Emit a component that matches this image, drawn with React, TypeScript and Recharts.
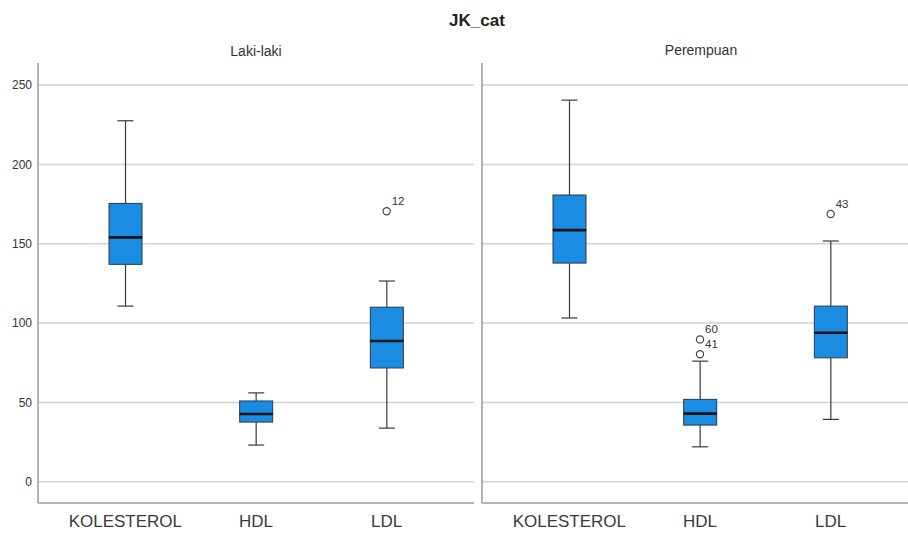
import React from "react";
import {
  ComposedChart, Bar, Scatter, XAxis, YAxis, ReferenceLine,
} from "recharts";

const categories = ["KOLESTEROL", "HDL", "LDL"];
const yTicks = [0, 50, 100, 150, 200, 250];

// Laki-laki
const lakiMin = [110.7, 23.1, 33.8];
const lakiQ1 = [137, 37.6, 71.7];
const lakiMedian = [154, 42.7, 88.7];
const lakiQ3 = [175.4, 50.9, 110];
const lakiMax = [227.5, 56, 126.5];
const lakiOutlier1 = [null, null, 170.5];
const lakiOutlierId1 = ["", "", "12"];
const lakiOutlier2 = [null, null, null];
const lakiOutlierId2 = ["", "", ""];

// Perempuan
const prMin = [103.2, 22, 39.3];
const prQ1 = [137.8, 35.7, 78.1];
const prMedian = [158.6, 42.9, 93.9];
const prQ3 = [180.7, 51.9, 110.7];
const prMax = [240.5, 76, 151.7];
const prOutlier1 = [null, 89.7, 168.7];
const prOutlierId1 = ["", "60", "43"];
const prOutlier2 = [null, 80.3, null];
const prOutlierId2 = ["", "41", ""];

const FONT = '"Liberation Sans", Arial, sans-serif';
const BOX_FILL = "#1a8de2";
const LINE = "#3a3a3a";

function buildRows(min, q1, med, q3, max, o1, id1, o2, id2) {
  return categories.map((name, i) => ({
    name,
    base: min[i],
    lowWhisker: q1[i] - min[i],
    lowBox: med[i] - q1[i],
    highBox: q3[i] - med[i],
    highWhisker: max[i] - q3[i],
    out1: o1[i],
    id1: id1[i],
    out2: o2[i],
    id2: id2[i],
  }));
}

const lakiRows = buildRows(lakiMin, lakiQ1, lakiMedian, lakiQ3, lakiMax,
  lakiOutlier1, lakiOutlierId1, lakiOutlier2, lakiOutlierId2);
const prRows = buildRows(prMin, prQ1, prMedian, prQ3, prMax,
  prOutlier1, prOutlierId1, prOutlier2, prOutlierId2);

const Empty = () => <g />;

const LowWhisker = (p: any) => {
  const cx = p.x + p.width / 2;
  const yb = p.y + p.height;
  return (
    <g>
      <line x1={cx} x2={cx} y1={p.y} y2={yb} stroke={LINE} strokeWidth={1.2} />
      <line x1={cx - 8} x2={cx + 8} y1={yb} y2={yb} stroke={LINE} strokeWidth={1.2} />
    </g>
  );
};

const HighWhisker = (p: any) => {
  const cx = p.x + p.width / 2;
  return (
    <g>
      <line x1={cx} x2={cx} y1={p.y} y2={p.y + p.height} stroke={LINE} strokeWidth={1.2} />
      <line x1={cx - 8} x2={cx + 8} y1={p.y} y2={p.y} stroke={LINE} strokeWidth={1.2} />
    </g>
  );
};

const LowBox = (p: any) => (
  <rect x={p.x} y={p.y} width={p.width} height={p.height}
    fill={BOX_FILL} stroke="#2b3a48" strokeWidth={1} />
);

const HighBox = (p: any) => (
  <g>
    <rect x={p.x} y={p.y} width={p.width} height={p.height}
      fill={BOX_FILL} stroke="#2b3a48" strokeWidth={1} />
    <line x1={p.x} x2={p.x + p.width} y1={p.y + p.height} y2={p.y + p.height}
      stroke="#111" strokeWidth={2.6} />
  </g>
);

const makeOutlier = (valKey: string, idKey: string) => (p: any) => {
  if (p.payload == null || p.payload[valKey] == null || !isFinite(p.cy)) return <g />;
  return (
    <g>
      <circle cx={p.cx} cy={p.cy} r={3.6} fill="#fff" stroke="#444" strokeWidth={1.2} />
      <text x={p.cx + 5} y={p.cy - 6.5} fontSize={11.5} fill="#333" fontFamily={FONT}>
        {p.payload[idKey]}
      </text>
    </g>
  );
};

function Panel({ rows, width, showLabels, padLeft, padRight }) {
  return (
    <ComposedChart
      width={width}
      height={533}
      data={rows}
      margin={{ top: 63, right: 0, left: 0, bottom: 0 }}
    >
      <XAxis
        dataKey="name"
        type="category"
        height={30}
        padding={{ left: padLeft, right: padRight }}
        tickLine={false}
        tickMargin={6}
        axisLine={{ stroke: "#9a9a9a", strokeWidth: 1.5 }}
        tick={{ fontSize: 17, fill: "#3a3a3a", fontFamily: FONT }}
      />
      <YAxis
        type="number"
        domain={[-13.4, 263.9]}
        allowDataOverflow
        ticks={yTicks}
        width={showLabels ? 38 : 8}
        tick={showLabels ? { fontSize: 12, fill: "#333", fontFamily: FONT } : false}
        tickLine={false}
        tickMargin={0}
        axisLine={{ stroke: "#9a9a9a", strokeWidth: 1.5 }}
      />
      {yTicks.map((t) => (
        <ReferenceLine key={t} y={t} stroke="#d2d2d2" strokeWidth={1.5} zIndex={-50} />
      ))}
      <Bar dataKey="base" stackId="b" barSize={33} shape={Empty} isAnimationActive={false} />
      <Bar dataKey="lowWhisker" stackId="b" barSize={33} shape={LowWhisker} isAnimationActive={false} />
      <Bar dataKey="lowBox" stackId="b" barSize={33} shape={LowBox} isAnimationActive={false} />
      <Bar dataKey="highBox" stackId="b" barSize={33} shape={HighBox} isAnimationActive={false} />
      <Bar dataKey="highWhisker" stackId="b" barSize={33} shape={HighWhisker} isAnimationActive={false} />
      <Scatter dataKey="out1" shape={makeOutlier("out1", "id1")} isAnimationActive={false} />
      <Scatter dataKey="out2" shape={makeOutlier("out2", "id2")} isAnimationActive={false} />
    </ComposedChart>
  );
}

export default function App() {
  return (
    <div style={{ position: "absolute", left: 0, top: 0, width: 908, height: 533, background: "#fff", fontFamily: FONT }}>
      <div style={{ position: "absolute", left: 0, top: 0 }}>
        <Panel rows={lakiRows} width={474} showLabels padLeft={22} padRight={22} />
      </div>
      <div style={{ position: "absolute", left: 474, top: 0 }}>
        <Panel rows={prRows} width={434} showLabels={false} padLeft={22} padRight={12} />
      </div>
      <svg width={908} height={70} style={{ position: "absolute", left: 0, top: 0, pointerEvents: "none" }}>
        <text x={477} y={26} textAnchor="middle" fontSize={17} fontWeight="bold" fill="#222" fontFamily={FONT}>
          JK_cat
        </text>
        <text x={256} y={55.5} textAnchor="middle" fontSize={14} fill="#333" fontFamily={FONT}>
          Laki-laki
        </text>
        <text x={701} y={55} textAnchor="middle" fontSize={14} fill="#333" fontFamily={FONT}>
          Perempuan
        </text>
      </svg>
    </div>
  );
}
